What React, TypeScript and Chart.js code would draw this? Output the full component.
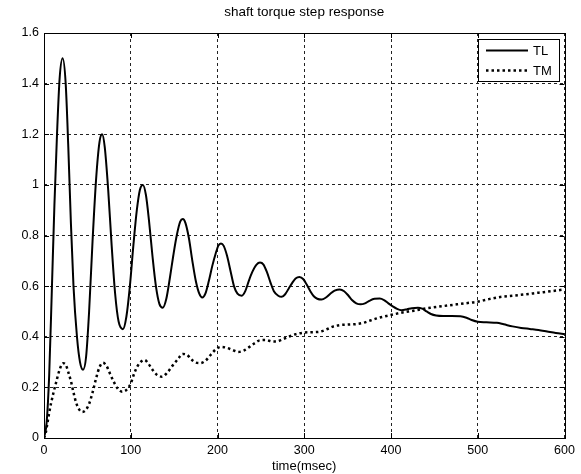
import React, { useEffect, useRef } from "react";
import { Chart, registerables } from "chart.js";

Chart.register(...registerables);

const chartTitle = "shaft torque step response";
const xAxisTitle = "time(msec)";
const xTicks = [0, 100, 200, 300, 400, 500, 600];
const yTicks = [0, 0.2, 0.4, 0.6, 0.8, 1, 1.2, 1.4, 1.6];

const tlLabel = "TL";
const tlTime = [
  0, 3, 6, 9, 12, 15, 18, 21.5, 25, 28, 31, 34, 38, 41.5, 45, 48.5, 52, 56, 60, 64, 67, 70, 74, 78, 82, 86, 91, 95,
  99, 103, 107, 110.5, 114, 117.5, 121, 125, 129, 133, 137, 141, 145, 149, 153, 157, 160, 163, 167, 171, 175, 179,
  182.5, 186, 190, 194, 198, 201, 204, 207, 211, 215, 219, 223, 228, 232, 236, 240, 245, 249, 253, 257, 261, 265,
  270, 274, 278, 282, 286, 290, 294.5, 299, 303, 307, 311, 315, 320, 325, 330, 335, 341, 346, 351, 355, 360, 365,
  370, 375, 381, 387, 392, 397, 402, 407, 412, 418, 424, 431, 436, 441, 446, 452, 460, 470, 480, 487, 493, 500, 510,
  522, 530, 540, 550, 560, 570, 580, 590, 600,
];
const tlValue = [
  0, 0.06, 0.25, 0.58, 0.92, 1.2, 1.42, 1.5, 1.4, 1.15, 0.85, 0.6, 0.4, 0.3, 0.27, 0.32, 0.5, 0.78, 1.02, 1.17, 1.2,
  1.15, 0.98, 0.76, 0.57, 0.46, 0.43, 0.48, 0.6, 0.76, 0.9, 0.98, 1.0, 0.96, 0.86, 0.72, 0.6, 0.53, 0.515, 0.55, 0.63,
  0.72, 0.8, 0.855, 0.865, 0.85, 0.79, 0.7, 0.62, 0.57, 0.555, 0.57, 0.62, 0.68, 0.73, 0.76, 0.768, 0.76, 0.72, 0.66,
  0.6, 0.57, 0.562, 0.58, 0.62, 0.655, 0.685, 0.693, 0.685, 0.655, 0.615, 0.58, 0.562, 0.558, 0.568, 0.59, 0.612,
  0.63, 0.636, 0.627, 0.605, 0.58, 0.56, 0.55, 0.547, 0.555, 0.57, 0.582, 0.587, 0.58, 0.562, 0.545, 0.532, 0.528,
  0.532, 0.542, 0.55, 0.551, 0.545, 0.532, 0.52, 0.51, 0.505, 0.508, 0.513, 0.515, 0.511, 0.5, 0.49, 0.484, 0.482,
  0.482, 0.481, 0.475, 0.466, 0.459, 0.457, 0.455, 0.449, 0.441, 0.435, 0.431, 0.427, 0.421, 0.415, 0.41,
];

const tmLabel = "TM";
const tmTime = [
  0, 2, 4, 6, 8, 11, 14, 18, 22, 25, 28, 31, 34, 37, 41, 44, 48, 52, 56, 60, 64, 68, 72, 76, 80, 85, 90, 95, 100, 104,
  108, 112, 116, 120, 125, 130, 136, 142, 148, 154, 160, 165, 170, 175, 180, 186, 192, 198, 204, 210, 217, 224, 230,
  237, 243, 249, 256, 262, 268, 275, 282, 290, 299, 308, 318, 325, 333, 341, 350, 360, 368, 376, 385, 395, 405, 415,
  425, 435, 449, 462, 476, 490, 499, 512, 526, 540, 556, 570, 585, 600,
];
const tmValue = [
  0, 0.02, 0.06, 0.1, 0.135, 0.18, 0.22, 0.27, 0.295, 0.29, 0.26, 0.225, 0.18, 0.14, 0.11, 0.103, 0.11, 0.135, 0.18,
  0.235, 0.28, 0.297, 0.285, 0.255, 0.225, 0.195, 0.183, 0.19, 0.215, 0.255, 0.285, 0.302, 0.308, 0.295, 0.27, 0.25,
  0.242, 0.258, 0.285, 0.31, 0.332, 0.328, 0.31, 0.298, 0.296, 0.305, 0.328, 0.35, 0.36, 0.357, 0.348, 0.34, 0.345,
  0.36, 0.375, 0.386, 0.387, 0.382, 0.381, 0.39, 0.4, 0.41, 0.416, 0.418, 0.42, 0.428, 0.44, 0.446, 0.448, 0.45,
  0.455, 0.464, 0.474, 0.482, 0.49, 0.497, 0.502, 0.509, 0.516, 0.522, 0.528, 0.534, 0.538, 0.548, 0.557, 0.562,
  0.568, 0.574, 0.58, 0.587,
];

const FONT = "'Liberation Sans', Arial, Helvetica, sans-serif";

const frameAndLegend = {
  id: "frameAndLegend",
  afterDatasetsDraw(chart: any) {
    const { ctx, chartArea } = chart;
    const { left, right, top, bottom } = chartArea;
    ctx.save();
    ctx.setLineDash([]);
    ctx.strokeStyle = "#000";
    ctx.lineWidth = 1;
    const xs = chart.scales.x;
    const ys = chart.scales.y;
    ctx.beginPath();
    xTicks.forEach((v) => {
      const px = Math.round(xs.getPixelForValue(v)) + 0.5;
      ctx.moveTo(px, bottom);
      ctx.lineTo(px, bottom - 5);
      ctx.moveTo(px, top);
      ctx.lineTo(px, top + 5);
    });
    yTicks.forEach((v) => {
      const py = Math.round(ys.getPixelForValue(v)) + 0.5;
      ctx.moveTo(left, py);
      ctx.lineTo(left + 5, py);
      ctx.moveTo(right, py);
      ctx.lineTo(right - 5, py);
    });
    ctx.stroke();
    ctx.strokeRect(Math.round(left) + 0.5, Math.round(top) + 0.5, Math.round(right - left), Math.round(bottom - top));

    ctx.font = `13px ${FONT}`;
    const ds = chart.data.datasets;
    const textW = Math.max(...ds.map((d: any) => ctx.measureText(d.label).width));
    const boxW = Math.round(8 + 42 + 5 + textW + 7);
    const boxH = 42;
    const bx = Math.round(right) - 6 - boxW;
    const by = Math.round(top) + 6;
    ctx.fillStyle = "#fff";
    ctx.fillRect(bx, by, boxW, boxH);
    ctx.strokeRect(bx + 0.5, by + 0.5, boxW, boxH);
    ds.forEach((d: any, i: number) => {
      const ly = by + 11.5 + i * 20;
      ctx.save();
      ctx.strokeStyle = d.borderColor;
      ctx.lineWidth = d.borderWidth;
      ctx.setLineDash(d.borderDash || []);
      ctx.beginPath();
      ctx.moveTo(bx + 8, ly);
      ctx.lineTo(bx + 50, ly);
      ctx.stroke();
      ctx.restore();
      ctx.fillStyle = "#000";
      ctx.textBaseline = "middle";
      ctx.textAlign = "left";
      ctx.fillText(d.label, bx + 55, ly + 0.5);
    });
    ctx.restore();
  },
};

export default function App() {
  const ref = useRef<HTMLCanvasElement | null>(null);

  useEffect(() => {
    if (!ref.current) return;
    const tl = tlTime.map((t, i) => ({ x: t, y: tlValue[i] }));
    const tm = tmTime.map((t, i) => ({ x: t, y: tmValue[i] }));
    const chart = new Chart(ref.current, {
      type: "line",
      data: {
        datasets: [
          {
            label: tlLabel,
            data: tl,
            borderColor: "#000",
            borderWidth: 2,
            pointRadius: 0,
            cubicInterpolationMode: "monotone",
            fill: false,
          },
          {
            label: tmLabel,
            data: tm,
            borderColor: "#000",
            borderWidth: 2.5,
            borderDash: [2.5, 3],
            pointRadius: 0,
            cubicInterpolationMode: "monotone",
            fill: false,
          },
        ],
      },
      options: {
        responsive: false,
        animation: false,
        devicePixelRatio: 1,
        layout: { padding: { left: 0, right: 16.5, top: 0, bottom: 0 } },
        plugins: {
          legend: { display: false },
          tooltip: { enabled: false },
          title: {
            display: true,
            fullSize: false,
            text: chartTitle,
            color: "#000",
            font: { family: FONT, size: 13.5, weight: "normal" },
            padding: { top: 4, bottom: 12.8 },
          },
        },
        scales: {
          x: {
            type: "linear",
            min: 0,
            max: 600,
            afterBuildTicks: (s: any) => {
              s.ticks = xTicks.map((v) => ({ value: v }));
            },
            afterFit: (s: any) => {
              s.height = 36;
            },
            ticks: {
              color: "#000",
              font: { family: FONT, size: 12.5 },
              padding: 5,
              maxRotation: 0,
              callback: (v: any) => String(v),
            },
            grid: { color: "#222", lineWidth: 1, drawTicks: false },
            border: { display: false, dash: [3, 3] },
            title: {
              display: true,
              text: xAxisTitle,
              color: "#000",
              font: { family: FONT, size: 13 },
              padding: { top: 0, bottom: 0 },
            },
          },
          y: {
            type: "linear",
            min: 0,
            max: 1.6,
            afterBuildTicks: (s: any) => {
              s.ticks = yTicks.map((v) => ({ value: v }));
            },
            afterFit: (s: any) => {
              s.width = 44;
            },
            ticks: {
              color: "#000",
              font: { family: FONT, size: 12.5 },
              padding: 5,
              callback: (v: any) => String(Math.round(Number(v) * 10) / 10),
            },
            grid: { color: "#222", lineWidth: 1, drawTicks: false },
            border: { display: false, dash: [3, 3] },
          },
        },
      },
      plugins: [frameAndLegend],
    } as any);
    return () => chart.destroy();
  }, []);

  return (
    <div style={{ position: "absolute", left: 0, top: 0, width: 581, height: 474, background: "#fff" }}>
      <canvas ref={ref} width={581} height={474} style={{ display: "block" }} />
    </div>
  );
}
